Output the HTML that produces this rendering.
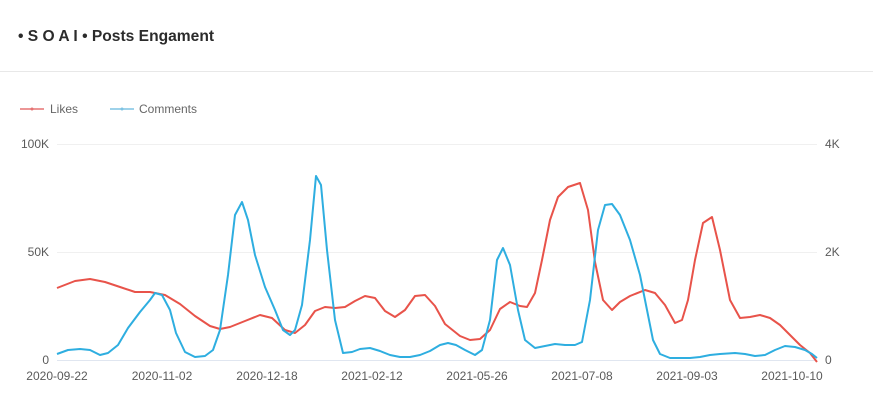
<!DOCTYPE html>
<html><head><style>
body{margin:0;background:#fff;font-family:"Liberation Sans",sans-serif;}
</style></head><body>
<svg width="873" height="403" xmlns="http://www.w3.org/2000/svg" font-family="Liberation Sans, sans-serif">
<text x="18" y="41" font-size="15.6" font-weight="bold" fill="#2b2b2b">• S O A I • Posts Engament</text>
<line x1="0" y1="71.5" x2="873" y2="71.5" stroke="#e8e8e8"/>
<line x1="20" y1="109" x2="44" y2="109" stroke="#e57373" stroke-width="1.5"/>
<circle cx="32" cy="109" r="1.5" fill="#e57373"/>
<text x="50" y="113" font-size="12" fill="#666">Likes</text>
<line x1="110" y1="109" x2="134" y2="109" stroke="#7ec3e3" stroke-width="1.5"/>
<circle cx="122" cy="109" r="1.5" fill="#7ec3e3"/>
<text x="139" y="113" font-size="12" fill="#666">Comments</text>
<line x1="57" y1="144.5" x2="817" y2="144.5" stroke="#f0f0f0"/>
<line x1="57" y1="252.5" x2="817" y2="252.5" stroke="#f0f0f0"/>
<line x1="57" y1="360.5" x2="817" y2="360.5" stroke="#e0e6f0"/>
<g font-size="12" fill="#5a5a5a">
<text x="49" y="148" text-anchor="end">100K</text>
<text x="49" y="256" text-anchor="end">50K</text>
<text x="49" y="364" text-anchor="end">0</text>
<text x="825" y="148">4K</text>
<text x="825" y="256">2K</text>
<text x="825" y="364">0</text>
<g text-anchor="middle">
<text x="57" y="380">2020-09-22</text>
<text x="162" y="380">2020-11-02</text>
<text x="267" y="380">2020-12-18</text>
<text x="372" y="380">2021-02-12</text>
<text x="477" y="380">2021-05-26</text>
<text x="582" y="380">2021-07-08</text>
<text x="687" y="380">2021-09-03</text>
<text x="792" y="380">2021-10-10</text>
</g></g>
<polyline fill="none" stroke="#e8534a" stroke-width="2" stroke-linejoin="round" points="57,288 75,281 90,279 105,282 120,287 135,292 150,292 165,295 180,304 195,316 210,326 220,329 230,327 245,321 260,315 272,318 285,330 295,333 305,325 315,311 325,307 335,308 345,307 355,301 365,296 375,298 385,311 395,317 405,310 415,296 425,295 435,306 445,324 460,336 470,340 480,339 490,330 500,309 510,302 520,306 527,307 535,293 542,260 550,220 558,197 568,187 580,183 588,210 595,262 603,300 612,310 620,302 630,296 645,290 655,293 665,305 675,323 682,320 688,300 695,260 703,223 712,217 720,250 730,300 740,318 750,317 760,315 770,318 780,325 790,335 800,345 810,353 817,362"/>
<polyline fill="none" stroke="#2eaee0" stroke-width="2" stroke-linejoin="round" points="57,354 68,350 80,349 90,350 100,355 108,353 118,345 128,328 140,312 150,300 155,293 162,295 170,310 176,333 185,352 195,357 205,356 213,350 220,330 228,275 235,215 242,202 248,220 255,255 265,287 275,310 283,330 290,335 295,330 302,305 310,240 316,176 321,185 327,250 335,320 343,353 352,352 360,349 370,348 380,351 390,355 400,357 410,357 420,355 430,351 440,345 448,343 456,345 465,350 475,355 482,350 490,320 497,260 503,248 510,265 518,310 525,340 535,348 545,346 555,344 565,345 575,345 582,342 590,300 598,230 605,205 612,204 620,215 630,240 640,275 647,310 653,340 660,354 670,358 690,358 700,357 710,355 720,354 735,353 745,354 755,356 765,355 775,350 785,346 795,347 805,350 812,354 817,358"/>
</svg>
</body></html>
